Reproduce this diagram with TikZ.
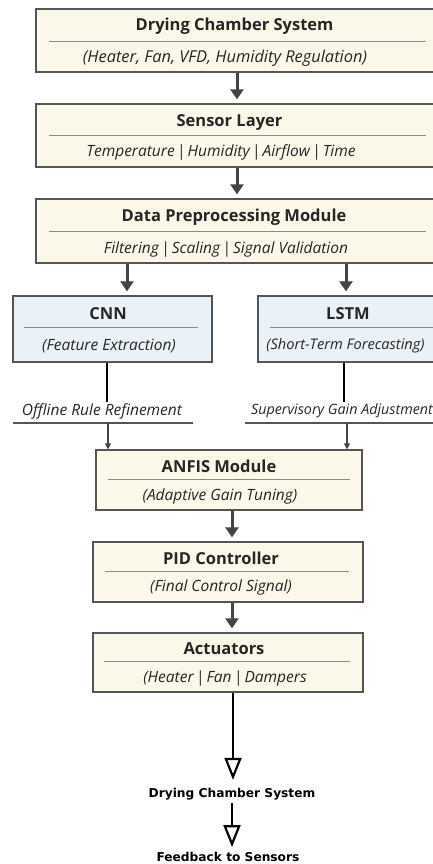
\documentclass[tikz,border=0pt]{standalone}
\usepackage{fontspec}
\setmainfont{Open Sans}
\newfontfamily\labelfont{DejaVu Sans}
\usetikzlibrary{arrows.meta}

\definecolor{cream}{HTML}{FBF7E9}
\definecolor{paleblue}{HTML}{EAF1F7}
\definecolor{edge}{HTML}{555555}
\definecolor{rule}{HTML}{8A8A8A}
\definecolor{flow}{HTML}{444444}

% tight vertical bar between list items
\newcommand{\barsep}{\hspace{2.2pt}|\hspace{2.2pt}}

\tikzset{
  block/.style={draw=edge, line width=1.3pt, fill=cream, inner sep=0pt},
  nnblock/.style={block, fill=paleblue},
  ttl/.style={inner sep=0pt, font=\fontsize{16.5}{18}\selectfont\bfseries, text=black!85},
  sub/.style={inner sep=0pt, font=\fontsize{15.5}{17}\selectfont\itshape, text=black!85},
  sepline/.style={draw=rule, line width=0.9pt},
  flowarrow/.style={draw=flow, line width=3pt, -{Triangle[length=10pt,width=13pt]}, shorten >=4pt},
  thickline/.style={draw=black, line width=2.6pt},
  thinarrow/.style={draw=flow, line width=1.4pt, -{Triangle[length=6pt,width=6pt]}},
  openarrow/.style={draw=black, line width=2.2pt, -{Triangle[open,length=22pt,width=17pt,line width=2.2pt]}},
  outtext/.style={inner sep=0pt, font=\labelfont\fontsize{12.2}{13}\selectfont\bfseries},
  tag/.style={inner sep=0pt, font=\fontsize{15.5}{17}\selectfont\itshape, text=black!85},
  underline/.style={draw=edge, line width=1.1pt},
}

\begin{document}
\begin{tikzpicture}[x=1pt,y=-1pt]
\useasboundingbox (0,0) rectangle (433,864);
\clip (0,0) rectangle (433,864);

% ---- top chain
\node[block, minimum width=404pt, minimum height=63pt] (dcs) at (238,40.5) {};
\node[ttl] at (234.5,26) {Drying Chamber System};
\draw[sepline] (49,41) -- (426,41);
\node[sub, font=\fontsize{16.4}{18}\selectfont\itshape] at (225,58) {(Heater, Fan, VFD, Humidity Regulation)};

\node[block, minimum width=404pt, minimum height=63pt] (sens) at (238,135.5) {};
\node[ttl] at (229.5,123) {Sensor Layer};
\draw[sepline] (49,135) -- (426,135);
\node[sub] at (221,152) {Temperature\barsep Humidity\barsep Airflow\barsep Time};

\node[block, minimum width=404pt, minimum height=64pt] (prep) at (238,231) {};
\node[ttl] at (234,217) {Data Preprocessing Module};
\draw[sepline] (49,231) -- (426,231);
\node[sub] at (226,249) {Filtering\barsep Scaling\barsep Signal Validation};

% ---- learning branches
\node[nnblock, minimum width=199pt, minimum height=66pt] (cnn) at (112.5,329) {};
\node[ttl] at (108,314) {CNN};
\draw[sepline] (24,327) -- (198,327);
\node[sub] at (109,346) {(Feature Extraction)};

\node[nnblock, minimum width=187pt, minimum height=66pt] (lstm) at (351.5,329) {};
\node[ttl] at (348,314) {LSTM};
\draw[sepline] (270,327) -- (440,327);
\node[sub, font=\fontsize{14.6}{16}\selectfont\itshape] at (345.5,346) {(Short-Term Forecasting)};

% ---- ANFIS / PID / actuators
\node[block, minimum width=266pt, minimum height=60pt] (anfis) at (229,480) {};
\node[ttl] at (219,466) {ANFIS Module};
\draw[sepline] (108,479) -- (350,479);
\node[sub] at (220,496) {(Adaptive Gain Tuning)};

\node[block, minimum width=270pt, minimum height=60pt] (pid) at (228,572) {};
\node[ttl] at (221,558) {PID Controller};
\draw[sepline] (105,571) -- (349,571);
\node[sub] at (221,587) {(Final Control Signal)};

\node[block, minimum width=270pt, minimum height=59pt] (act) at (228,662.5) {};
\node[ttl] at (224,649) {Actuators};
\draw[sepline] (104,661) -- (350,661);
\node[sub] at (225,678) {(Heater\barsep Fan\barsep Dampers};

% ---- refinement labels
\node[tag] (offl) at (102,411) {Offline Rule Refinement};
\draw[underline] (13,423) coordinate (offlL) -- (193,423) coordinate (offlR);
\node[tag, font=\fontsize{14.3}{16}\selectfont\itshape] (supv) at (342,411) {Supervisory Gain Adjustment};
\draw[underline] (245,423) coordinate (supvL) -- (440,423) coordinate (supvR);

% ---- output text
\node[outtext] (dcsout) at (232,794) {Drying Chamber System};
\node[outtext] (fb) at (228,857) {Feedback to Sensors};

% ---- connectors
\draw[flowarrow] (dcs.south -| 237,0) -- (sens.north -| 237,0);
\draw[flowarrow] (sens.south -| 237,0) -- (prep.north -| 237,0);
\draw[flowarrow] (prep.south -| 127,0) -- (cnn.north -| 127,0);
\draw[flowarrow] (prep.south -| 346,0) -- (lstm.north -| 346,0);

\coordinate (cnnTap) at (107,402);
\coordinate (lstmTap) at (344,402);
\draw[thickline] (cnn.south -| cnnTap) -- (cnnTap);
\draw[thickline] (lstm.south -| lstmTap) -- (lstmTap);

\coordinate (offlDrop) at (108,423);
\coordinate (supvDrop) at (347,423);
\draw[thinarrow] (offlDrop) -- (anfis.north -| offlDrop);
\draw[thinarrow] (supvDrop) -- (anfis.north -| supvDrop);

\draw[flowarrow] (anfis.south -| 232,0) -- (pid.north -| 232,0);
\draw[flowarrow] (pid.south -| 232,0) -- (act.north -| 232,0);

\draw[openarrow, shorten >=8pt] (act.south -| 233,0) -- (dcsout.north -| 233,0);
\draw[openarrow, shorten <=3pt, shorten >=5pt] (dcsout.south -| 232,0) -- (fb.north -| 232,0);
\end{tikzpicture}
\end{document}
